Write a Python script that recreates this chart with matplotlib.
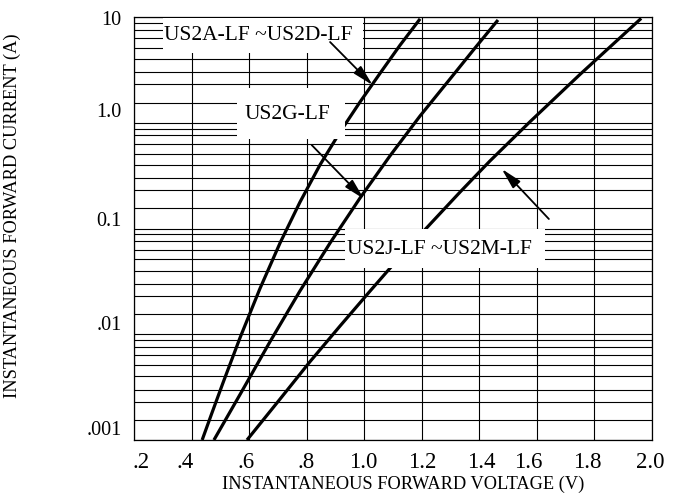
import matplotlib
matplotlib.use("Agg")
import matplotlib.pyplot as plt
import matplotlib.patches as mpatches
import matplotlib.transforms as mtransforms

# ── curve data (V, A) ───────────────────────────────────────────────────────
v_ad = [0.437, 0.471, 0.510, 0.569, 0.638, 0.708, 0.777, 0.847, 0.917, 0.986,
        1.056, 1.125, 1.195]
i_ad = [0.001, 0.0018, 0.0035, 0.0093, 0.027, 0.073, 0.177, 0.40, 0.82, 1.57,
        2.94, 5.4, 9.6]

v_g = [0.478, 0.569, 0.673, 0.777, 0.882, 0.986, 1.090, 1.195, 1.299, 1.386, 1.466]
i_g = [0.001, 0.0027, 0.0085, 0.0256, 0.073, 0.194, 0.485, 1.16, 2.59, 5.09, 9.37]

v_jm = [0.593, 0.708, 0.812, 0.917, 1.021, 1.125, 1.230, 1.334, 1.438, 1.577,
        1.751, 1.964]
i_jm = [0.001, 0.00244, 0.0055, 0.012, 0.0256, 0.054, 0.110, 0.221, 0.435, 1.02,
        2.86, 9.7]

x_ticks = [0.2, 0.4, 0.6, 0.8, 1.0, 1.2, 1.4, 1.6, 1.8, 2.0]
x_labels = [".2", ".4", ".6", ".8", "1.0", "1.2", "1.4", "1.6", "1.8", "2.0"]
y_ticks = [0.001, 0.01, 0.1, 1.0, 10.0]
y_labels = [".001", ".01", "0.1", "1.0", "10"]
# the printed chart uses its own minor ruling inside each decade
minor_mant = [1.55, 2.3, 3.0, 4.0, 5.1, 6.3, 7.6, 8.8]

FONT = "Liberation Serif"
plt.rcParams["font.family"] = FONT

fig = plt.figure(figsize=(6.83, 5.0), dpi=100)
ax = fig.add_axes([0.1962, 0.12, 0.7577, 0.846])
ax.set_yscale("log")
ax.set_xlim(0.2, 2.0)
ax.set_ylim(0.001, 10)

# ── ruling ──────────────────────────────────────────────────────────────────
minors = [m * 10.0 ** e for e in range(-3, 1) for m in minor_mant]
ax.set_xticks(x_ticks)
ax.set_xticklabels(x_labels)
ax.set_yticks(y_ticks)
ax.set_yticklabels(y_labels)
ax.set_yticks(minors, minor=True)
ax.yaxis.set_minor_formatter(plt.NullFormatter())
ax.tick_params(which="both", length=0)
ax.tick_params(axis="x", labelsize=16.5, pad=9)
ax.tick_params(axis="y", labelsize=14.5, pad=9)
ax.grid(which="both", color="black", linewidth=0.8, zorder=1)
ax.set_axisbelow(True)
for sp in ax.spines.values():
    sp.set_linewidth(0.9)

# nudge tick labels like the printed original
x_off = [7, -6, -3, 0, -1, 1, 2, -8, -7, -1]
for lab, dx in zip(ax.get_xticklabels(), x_off):
    lab.set_transform(lab.get_transform() +
                      mtransforms.ScaledTranslation(dx / 100, 0, fig.dpi_scale_trans))
y_off = [12, 11, 10, 13, -1]
for lab, dy in zip(ax.get_yticklabels(), y_off):
    lab.set_transform(lab.get_transform() +
                      mtransforms.ScaledTranslation(0, dy / 100, fig.dpi_scale_trans))

# ── curves ──────────────────────────────────────────────────────────────────
for v, i in [(v_ad, i_ad), (v_g, i_g), (v_jm, i_jm)]:
    ax.plot(v, i, color="black", linewidth=2.3, solid_capstyle="butt",
            solid_joinstyle="round", zorder=2)

# ── label boxes (white, hide the ruling) ────────────────────────────────────
boxes = [
    ((0.056, 0.915), 0.3865, 0.083, "US2A-LF ~US2D-LF", (0.2405, 0.957)),
    ((0.199, 0.7116), 0.2087, 0.1204, "US2G-LF", (0.2966, 0.769)),
    ((0.4077, 0.4066), 0.3865, 0.0922, "US2J-LF ~US2M-LF", (0.5894, 0.4515)),
]
for (x0, y0), w, h, txt, (tx, ty) in boxes:
    ax.add_patch(mpatches.Rectangle((x0, y0), w, h, transform=ax.transAxes,
                                    facecolor="white", edgecolor="none", zorder=3))
    ax.text(tx, ty, txt, transform=ax.transAxes, fontsize=15.5,
            ha="center", va="center", zorder=4)

# ── arrows ──────────────────────────────────────────────────────────────────
arrows = [((0.882, 5.8), (1.030, 2.27)),
          ((0.818, 0.616), (1.000, 0.19)),
          ((1.643, 0.123), (1.479, 0.366))]
for start, tip in arrows:
    ax.annotate("", xy=tip, xytext=start,
                arrowprops=dict(arrowstyle="-|>,head_length=0.9,head_width=0.22",
                                color="black", lw=1.3, shrinkA=0, shrinkB=0,
                                mutation_scale=14),
                zorder=5)

# ── axis titles ─────────────────────────────────────────────────────────────
fig.text(403 / 683, 1 - 484 / 500, "INSTANTANEOUS FORWARD VOLTAGE (V)",
         fontsize=13.2, ha="center", va="center")
fig.text(12 / 683, 1 - 216 / 500, "INSTANTANEOUS FORWARD CURRENT (A)",
         fontsize=13.2, ha="center", va="center", rotation=90)

fig.savefig("out.png", dpi=100, facecolor="white")
